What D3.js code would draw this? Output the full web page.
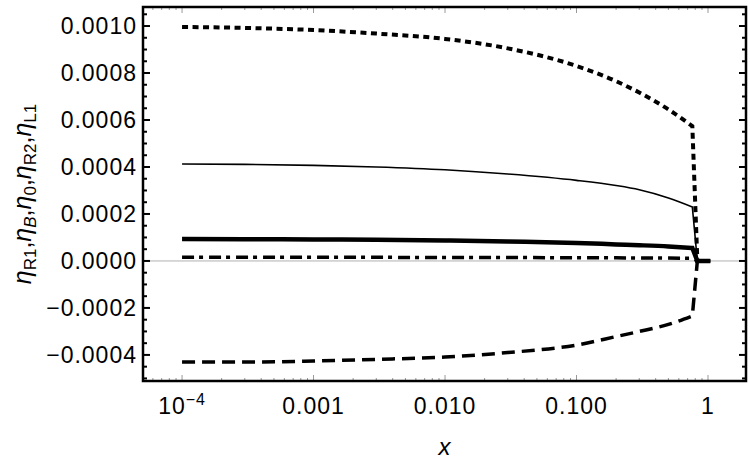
<!DOCTYPE html>
<html lang="en">
  <head>
    <meta charset="UTF-8" />
    <title>eta vs x</title>
    <style>
      body { margin: 0; background: #fff; }
      svg text { font-family: "Liberation Sans", Arial, sans-serif; }
    </style>
  </head>
  <body>
    <div class="chart"></div>

    <script src="https://d3js.org/d3.v7.min.js"></script>
    <script>
      // data ================================================================
      const xVals = [1e-4, 3e-4, 1e-3, 3e-3, 0.01, 0.03, 0.1, 0.2, 0.3, 0.5, 0.76, 0.83, 1.04];
      const etaR1 = [0.0000936, 0.0000928, 0.0000915, 0.00009, 0.0000872, 0.000083, 0.0000766, 0.0000705, 0.000067, 0.0000617, 0.0000553, 0, 0];
      const etaB = [0.000413, 0.000411, 0.000407, 0.0004, 0.000388, 0.00037, 0.000343, 0.000321, 0.000303, 0.000268, 0.00023, 0, 0];
      const eta0 = [0.000996, 0.000992, 0.000983, 0.000968, 0.000945, 0.000905, 0.00083, 0.000765, 0.000717, 0.000645, 0.000574, 0, 0];
      const etaR2 = [0.0000157, 0.0000157, 0.0000155, 0.0000153, 0.000015, 0.0000145, 0.0000138, 0.0000132, 0.0000128, 0.0000122, 0.0000115, 0, 0];
      const etaL1 = [-0.00043, -0.00043, -0.000426, -0.000419, -0.000409, -0.00039, -0.000358, -0.000322, -0.0003, -0.00027, -0.000234, 0, 0];

      const yMajor = [-0.0004, -0.0002, 0, 0.0002, 0.0004, 0.0006, 0.0008, 0.001];
      const yLabels = ["\u22120.0004", "\u22120.0002", "0.0000", "0.0002", "0.0004", "0.0006", "0.0008", "0.0010"];
      const xMajor = [1e-4, 1e-3, 1e-2, 1e-1, 1];
      const xLabels = ["10^-4", "0.001", "0.010", "0.100", "1"];

      // layout =============================================================
      const W = 750, H = 465;
      const L = 143, R = 746, T = 7, B = 381;
      const kink = 10; // last point of the smooth part

      const svg = d3.select(".chart").append("svg")
        .attr("width", W).attr("height", H);

      const x = d3.scaleLog().domain([Math.pow(10, -4.297), Math.pow(10, 0.289)]).range([L, R]);
      const y = d3.scaleLinear().domain([-0.000511, 0.001081]).range([B, T]);

      // zero line
      svg.append("line")
        .attr("x1", L).attr("x2", R)
        .attr("y1", y(0)).attr("y2", y(0))
        .attr("stroke", "#b0b0b0").attr("stroke-width", 1);

      // curves =============================================================
      const series = [
        { v: eta0, w: 4, dash: "6,4.5" },
        { v: etaB, w: 1.6, dash: null },
        { v: etaL1, w: 3.5, dash: "13,7" },
        { v: etaR2, w: 3.5, dash: "12,5,4,6" },
        { v: etaR1, w: 4.5, dash: null }
      ];

      const smooth = d3.line()
        .x((d) => x(d[0]))
        .y((d) => y(d[1]))
        .curve(d3.curveMonotoneX);

      series.forEach((s) => {
        const pts = xVals.map((xv, i) => [xv, s.v[i]]);
        // smooth up to the kink, then straight drop to zero
        let d = smooth(pts.slice(0, kink + 1));
        pts.slice(kink + 1).forEach((p) => {
          d += "L" + x(p[0]) + "," + y(p[1]);
        });
        svg.append("path")
          .attr("d", d)
          .attr("fill", "none")
          .attr("stroke", "#000")
          .attr("stroke-width", s.w)
          .attr("stroke-linejoin", "miter")
          .attr("stroke-dasharray", s.dash);
      });

      // ticks ==============================================================
      const yMinor = d3.range(-10, 22).map((k) => k * 0.00005).filter((v) => y(v) > T && y(v) < B);
      const xMinor = [];
      for (let e = -5; e <= 0; e++) {
        for (let m = 1; m <= 9; m++) {
          const v = m * Math.pow(10, e);
          if (x(v) > L && x(v) < R) xMinor.push(v);
        }
      }

      const ticks = svg.append("g");
      yMinor.forEach((v) => {
        const major = yMajor.some((m) => Math.abs(m - v) < 1e-9);
        const len = major ? 7 : 4;
        ticks.append("line").attr("x1", L).attr("x2", L + len)
          .attr("y1", y(v)).attr("y2", y(v))
          .attr("stroke", "#000").attr("stroke-width", 2);
        ticks.append("line").attr("x1", R).attr("x2", R - len)
          .attr("y1", y(v)).attr("y2", y(v))
          .attr("stroke", "#000").attr("stroke-width", 2);
      });
      xMinor.forEach((v) => {
        const major = xMajor.some((m) => Math.abs(m - v) / m < 1e-6);
        const len = major ? 6 : 3;
        ticks.append("line").attr("x1", x(v)).attr("x2", x(v))
          .attr("y1", B).attr("y2", B - len)
          .attr("stroke", "#999").attr("stroke-width", 1);
        ticks.append("line").attr("x1", x(v)).attr("x2", x(v))
          .attr("y1", T).attr("y2", T + len)
          .attr("stroke", "#999").attr("stroke-width", 1);
      });

      // frame
      svg.append("rect")
        .attr("x", L).attr("y", T)
        .attr("width", R - L).attr("height", B - T)
        .attr("fill", "none").attr("stroke", "#000").attr("stroke-width", 2.5);

      // tick labels ========================================================
      svg.append("g").selectAll("text")
        .data(yMajor)
        .join("text")
        .attr("x", 137)
        .attr("y", (d) => y(d) + 8)
        .attr("text-anchor", "end")
        .attr("font-size", 23)
        .attr("letter-spacing", 1)
        .text((d, i) => yLabels[i]);

      const xl = svg.append("g").selectAll("text")
        .data(xMajor)
        .join("text")
        .attr("x", (d) => x(d))
        .attr("y", 414)
        .attr("text-anchor", "middle")
        .attr("font-size", 23)
        .attr("letter-spacing", 1);
      xl.each(function (d, i) {
        const t = d3.select(this);
        const lab = xLabels[i];
        if (lab.includes("^")) {
          const [base, ex] = lab.split("^");
          t.append("tspan").text(base);
          t.append("tspan").attr("dy", -9).attr("font-size", 16)
            .text(ex.replace("-", "\u2212"));
        } else {
          t.text(lab);
        }
      });

      // axis titles ========================================================
      svg.append("text")
        .attr("x", (L + R) / 2)
        .attr("y", 455)
        .attr("text-anchor", "middle")
        .attr("font-size", 24)
        .attr("font-style", "italic")
        .text("x");

      const yt = svg.append("text")
        .attr("transform", `translate(31,${(T + B) / 2}) rotate(-90)`)
        .attr("text-anchor", "middle")
        .attr("font-size", 25);
      const parts = [["R1", false], ["B", true], ["0", false], ["R2", false], ["L1", false]];
      parts.forEach((p, i) => {
        if (i > 0) yt.append("tspan").attr("dy", -5).text(",");
        yt.append("tspan").attr("font-style", "italic").text("\u03b7");
        yt.append("tspan").attr("font-size", 17).attr("dy", 5)
          .attr("font-style", p[1] ? "italic" : "normal").text(p[0]);
      });
    </script>
  </body>
</html>
